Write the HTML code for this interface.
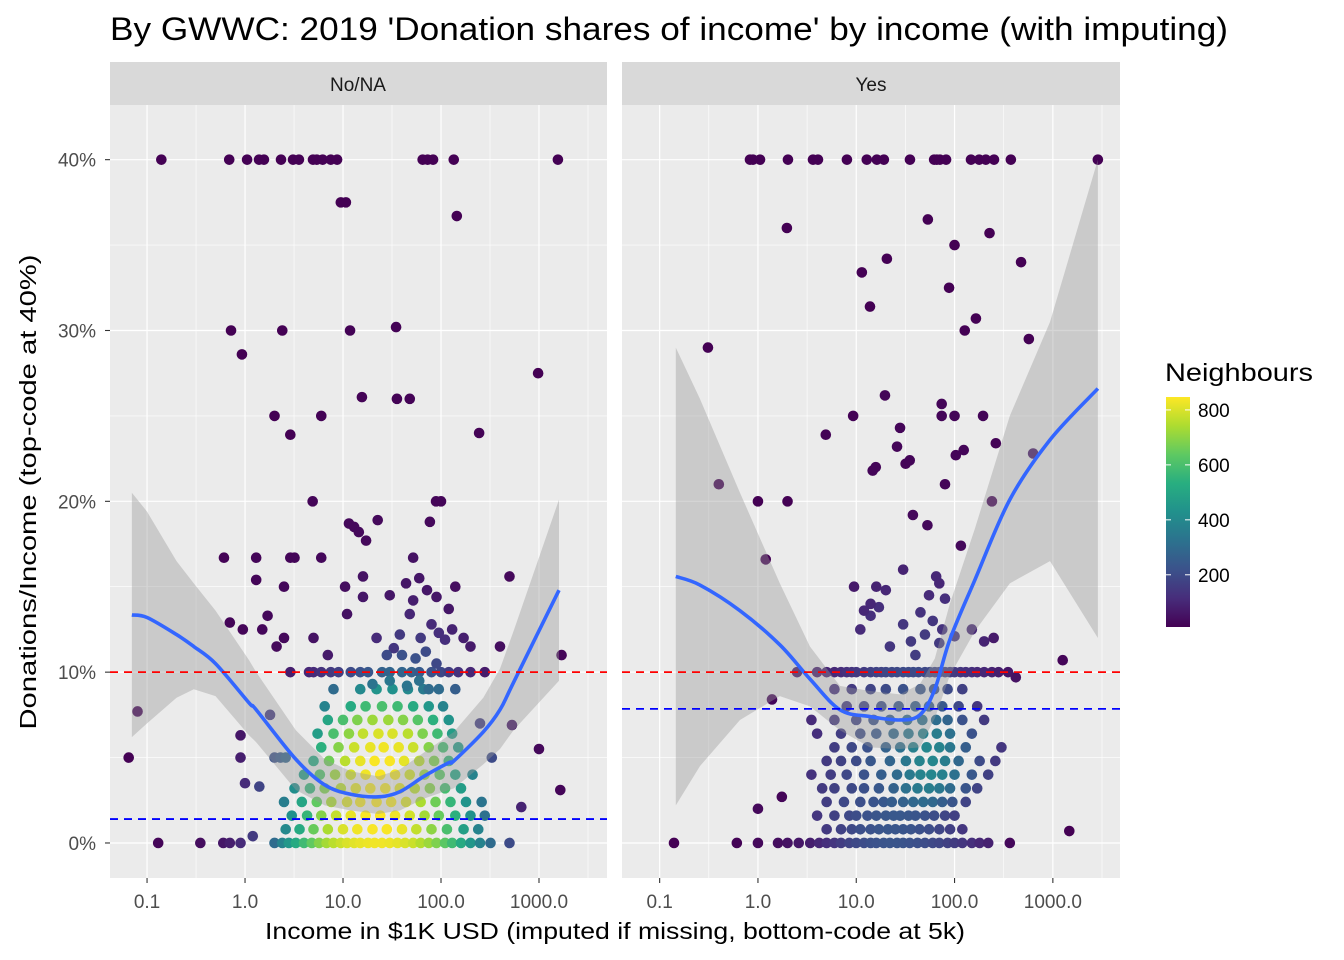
<!DOCTYPE html>
<html><head><meta charset="utf-8"><style>
body{margin:0;background:#fff;width:1344px;height:960px;overflow:hidden;font-family:"Liberation Sans",Arial,sans-serif}
</style></head><body>
<svg id="chart" width="1344" height="960" xmlns="http://www.w3.org/2000/svg" style="position:absolute;left:0;top:0">
<text x="110" y="40" font-size="32" textLength="1118" lengthAdjust="spacingAndGlyphs" fill="#000">By GWWC: 2019 'Donation shares of income' by income (with imputing)</text>
<rect x="110" y="62" width="497" height="43" fill="#d9d9d9"/>
<rect x="622" y="62" width="498" height="43" fill="#d9d9d9"/>
<text x="358" y="91" font-size="19" fill="#1a1a1a" text-anchor="middle">No/NA</text>
<text x="871" y="91" font-size="19" fill="#1a1a1a" text-anchor="middle">Yes</text>
<rect x="110" y="105" width="497" height="773" fill="#ebebeb"/>
<rect x="622" y="105" width="498" height="773" fill="#ebebeb"/>
<g id="grid"></g><g id="marks"></g><g id="axes"></g>
<text x="615" y="939" font-size="23" textLength="700" lengthAdjust="spacingAndGlyphs" fill="#000" text-anchor="middle">Income in $1K USD (imputed if missing, bottom-code at 5k)</text>
<text transform="translate(36,492) rotate(-90)" font-size="23" textLength="475" lengthAdjust="spacingAndGlyphs" fill="#000" text-anchor="middle">Donations/Income (top-code at 40%)</text>
<text x="1165" y="381" font-size="25" textLength="148" lengthAdjust="spacingAndGlyphs" fill="#000">Neighbours</text>
<defs><linearGradient id="vir" x1="0" y1="1" x2="0" y2="0">
<stop offset="0" stop-color="#440154"/><stop offset="0.125" stop-color="#472d7b"/><stop offset="0.25" stop-color="#3b528b"/><stop offset="0.375" stop-color="#2c728e"/><stop offset="0.5" stop-color="#21918c"/><stop offset="0.625" stop-color="#28ae80"/><stop offset="0.75" stop-color="#5ec962"/><stop offset="0.875" stop-color="#addc30"/><stop offset="1" stop-color="#fde725"/></linearGradient></defs>
<rect x="1166" y="397" width="24" height="230" fill="url(#vir)"/>
<g id="legend"></g>
</svg>
<script>
// ---------- data ----------
const nbTicks = [200, 400, 600, 800];
const yTicks = [0, 10, 20, 30, 40];
const yTickLabels = ["0%", "10%", "20%", "30%", "40%"];
const xTicks = [0.1, 1, 10, 100, 1000];
const xTickLabels = ["0.1", "1.0", "10.0", "100.0", "1000.0"];
const refRed = [10, 10];          // red dashed line per panel (%)
const refBlue = [1.4, 7.85];      // blue dashed line per panel (%)

// scattered points [income, share%, neighbours]
const leftPts = [
[0.14,40,5],[0.69,40,5],[1.05,40,5],[1.39,40,5],[1.56,40,5],[2.33,40,5],[3.09,40,5],[3.55,40,5],[4.94,40,5],[5.4,40,5],[6.2,40,5],[7.5,40,5],[8.7,40,5],[65,40,5],[73,40,5],[83,40,5],[135,40,5],[1560,40,5],
[9.5,37.5,10],[10.7,37.5,10],[145,36.7,10],[0.72,30,10],[2.4,30,10],[11.8,30,15],[34.8,30.2,15],[0.93,28.6,10],[980,27.5,10],[15.6,26.1,15],[35.5,26,15],[48,26,15],[2,25,10],[6,25,15],[2.9,23.9,10],[245,24,15],
[4.9,20,20],[89,20,20],[100,20,20],[22.6,18.9,30],[77,18.8,30],[11.5,18.7,30],[13,18.5,30],[14.5,18.2,30],[17.2,17.7,30],
[0.61,16.7,15],[1.3,16.7,20],[2.9,16.7,20],[3.2,16.7,20],[6,16.7,25],[1.3,15.4,20],[2.5,15,25],[10.5,15,40],[16,15.6,50],[30,14.5,60],[44,15.2,60],[60,15.5,60],[72,14.8,60],[140,15,40],[52,16.7,50],[90,14.4,60],[120,13.7,60],[16,14.4,60],[11,13.4,50],[0.7,12.9,20],[0.95,12.5,20],[1.5,12.5,25],[1.7,13.3,25],[2.5,12,30],[2.1,11.5,30],[5,12,50],[7,11,70],[22,12,110],[33,11.4,140],[48,13.4,100],[52,14.2,80],[80,12.8,110],[95,12.3,120],[110,11.9,120],[130,12.5,90],[170,12,80],[200,11.5,70],[500,15.6,30],
[0.08,7.7,15],[0.065,5,10],[0.13,0,20],[0.35,0,40],[0.6,0,60],[0.7,0,80],[0.9,0,110],[1.2,0.4,150],[0.9,6.3,60],[0.9,5,80],[1,3.5,110],[1.4,3.3,180],[1.8,7.5,150],[2,5,220],[2.3,5,250],[2.6,5,280],
[2.9,10,80],[4.5,10,100],[5,10,110],[6,10,130],[7.5,10,150],[9,10,170],[12,10,200],[15,10,220],[18,10,240],[25,10,270],[30,10,280],[40,10,280],[50,10,270],[60,10,250],[80,10,220],[100,10,190],[120,10,160],[150,10,130],[200,10,100],[280,10,70],[400,11.5,40],[1000,5.5,30],[1700,11,20],[1650,3.1,20],[530,6.9,60],[660,2.1,90],[500,0,200],[330,5,200],[250,7,160],
[20,9.3,330],[30,9.5,340],[45,9.2,330],[60,9.5,320],[75,9,300],[28,11,200],[40,11,220],[55,10.8,220],[70,11.2,200],[90,10.5,190],[38,12.2,150],[62,12,150]
];
const rightPts = [
[0.83,40,5],[0.89,40,5],[1.05,40,5],[2.02,40,5],[3.63,40,5],[4.08,40,5],[8.04,40,5],[12.8,40,5],[16.2,40,5],[19.1,40,5],[35.2,40,5],[62,40,5],[66,40,5],[71,40,5],[82,40,5],[147,40,5],[178,40,5],[208,40,5],[252,40,5],[374,40,5],[2870,40,5],
[0.31,29,5],[1.97,36,5],[11.4,33.4,10],[13.8,31.4,10],[20.5,34.2,10],[53.5,36.5,10],[100,35,10],[88,32.5,10],[227,35.7,10],[475,34,10],[570,29.5,10],[165,30.7,10],[127,30,10],
[0.4,21,10],[1,20,10],[2,20,10],[1.2,16.6,10],[4.9,23.9,15],[9.3,25,15],[19.6,26.2,20],[27.9,24.3,20],[26,23.2,20],[31.8,22.2,20],[14.7,21.8,20],[15.8,22,20],[35,22.4,20],[74,25.7,20],[74,25,20],[100,25,20],[195,25,20],[103,22.7,20],[124,23,20],[263,23.4,15],[240,20,15],[80,21,20],[53,18.6,30],[116,17.4,30],[37.7,19.2,30],[630,22.8,60],
[1260,10.7,20],[1470,0.7,10],[365,0,30],[420,9.7,50],[1.39,8.4,20],[1.75,2.7,20],[0.14,0,10],[0.61,0,15],[1,2,30],[1,0,30],[1.6,0,40],[2,0,50],[2.6,0,60],[3.4,0,80],[4.2,0,100],[5,0,120],[6,0,140],[7,0,160],[8.5,0,180],[10,0,195],[12,0,205],[14,0,215],[16,0,220],[19,0,225],[22,0,228],[26,0,228],[30,0,225],[35,0,220],[42,0,215],[50,0,205],[60,0,195],[70,0,185],[85,0,170],[100,0,155],[120,0,140],[150,0,120],[180,0,100],[220,0,85],
[5,0.8,150],[7,0.8,175],[9,0.8,195],[11,0.8,210],[14,0.8,220],[17,0.8,228],[21,0.8,232],[25,0.8,232],[30,0.8,230],[36,0.8,225],[44,0.8,215],[55,0.8,205],[70,0.8,185],[90,0.8,165],[120,0.8,140],
[4,1.6,140],[6,1.6,170],[8.5,1.6,195],[10,1.6,205],[13,1.6,218],[16,1.6,228],[20,1.6,235],[24,1.6,238],[28,1.6,238],[34,1.6,235],[40,1.6,230],[50,1.6,220],[62,1.6,205],[80,1.6,185],[100,1.6,165],
[5,2.4,160],[7.5,2.4,190],[11,2.4,210],[15,2.4,225],[19,2.4,240],[23,2.4,255],[30,2.4,270],[38,2.4,290],[48,2.4,300],[60,2.4,290],[75,2.4,260],[95,2.4,230],[130,2.4,180],
[4.5,3.2,150],[6,3.2,170],[9,3.2,195],[12,3.2,215],[17,3.2,240],[24,3.2,270],[32,3.2,320],[42,3.2,350],[55,3.2,360],[70,3.2,340],[90,3.2,300],[130,3.2,230],[170,3.2,180],
[3.5,4,130],[5.5,4,160],[8,4,190],[12,4,220],[18,4,260],[26,4,300],[35,4,350],[45,4,380],[58,4,390],[75,4,370],[100,4,320],[150,4,240],[220,4,170],
[5,4.8,150],[7,4.8,175],[10,4.8,200],[14,4.8,235],[22,4.8,280],[32,4.8,340],[44,4.8,380],[60,4.8,390],[80,4.8,360],[110,4.8,290],[180,4.8,200],[260,4.8,150],
[6,5.6,160],[9,5.6,190],[13,5.6,220],[20,5.6,270],[28,5.6,320],[38,5.6,370],[52,5.6,390],[70,5.6,380],[90,5.6,340],[130,5.6,260],[300,5.6,140],
[4,6.4,120],[7,6.4,160],[11,6.4,200],[16,6.4,240],[24,6.4,290],[34,6.4,340],[48,6.4,370],[66,6.4,360],[90,6.4,320],[150,6.4,220],
[3.5,7.2,110],[6,7.2,140],[10,7.2,180],[15,7.2,220],[22,7.2,260],[33,7.2,300],[47,7.2,320],[65,7.2,310],[85,7.2,280],[120,7.2,220],[200,7.2,150],
[8,8,150],[12,8,180],[18,8,210],[27,8,240],[40,8,260],[55,8,260],[75,8,240],[110,8,190],[170,8,140],
[6,9,120],[9,9,150],[14,9,180],[20,9,200],[30,9,220],[45,9,230],[62,9,220],[85,9,200],[120,9,170],
[2.5,10,60],[4,10,80],[5,10,95],[6,10,105],[7,10,115],[8,10,125],[9,10,135],[10,10,145],[12,10,155],[14,10,165],[16,10,175],[18,10,180],[20,10,185],[23,10,190],[26,10,195],[30,10,200],[34,10,200],[38,10,200],[43,10,200],[50,10,195],[56,10,190],[63,10,185],[70,10,180],[80,10,170],[90,10,160],[100,10,150],[115,10,140],[130,10,130],[150,10,120],[170,10,110],[200,10,100],[240,10,90],[280,10,80],[350,10,60],
[11,12.5,110],[14,13.3,120],[17,13.8,120],[22,11.5,140],[30,12.8,140],[40,11,160],[50,12.2,150],[60,13,140],[70,11.7,150],[80,14.3,120],[100,12.1,130],[150,12.5,100],[200,11.8,90],[250,12,70],
[16,15,90],[20,14.8,100],[30,16,90],[55,14.5,110],[65,15.6,100],[70,15.2,100],[9.5,15,70],[12,13.6,100],[75,12.5,130],[14,14,100],[45,13.5,130],[36,11.8,150]
];
// dense cluster rows (left panel): share %, incomes, neighbours
const leftRowShares = [0, 0.8, 1.6, 2.4, 3.2, 4, 4.8, 5.6, 6.4, 7.2, 8, 9];
const leftRowIncomes = [
[2,2.4,2.8,3.3,4,4.8,5.7,6.8,8,9.5,11,13,15,18,21,25,30,36,43,52,62,75,90,110,130,160,200,250,320],
[2.6,3.6,5,7,10,14,20,28,40,56,80,115,170,240],
[3,4.3,6,8.5,12,17,24,34,48,68,95,140,200,280],
[2.5,3.8,5.4,7.6,11,15,22,31,44,62,88,125,180,260],
[3.2,4.6,6.5,9.5,13.5,19,27,38,54,77,110,160],
[4,5.8,8.3,12,17,24,34,48,68,97,140,210],
[5,7.2,10.5,15,21,30,42,60,85,120],
[6,9,13,19,26,37,52,75,105,150],
[5.5,8,11.5,16,23,32,46,65,92,130],
[7,10,14,20,29,41,58,83,120],
[6.5,12,17,25,36,52,75,105],
[8,15,22,32,46,66,95,140]];
const leftRowNb = [
[300,380,450,520,580,640,690,730,760,780,800,810,820,825,830,830,825,815,800,780,750,720,680,630,580,520,450,380,300],
[400,520,650,740,800,830,840,840,820,770,700,600,480,380],
[430,560,690,770,820,840,845,830,790,730,650,540,430,320],
[360,500,640,740,800,830,840,835,800,740,660,560,440,330],
[420,560,680,760,810,830,830,810,760,690,590,470],
[470,610,720,790,830,840,830,790,720,630,500,380],
[520,660,760,820,840,840,815,760,680,560],
[540,690,780,820,830,820,780,690,590,470],
[470,600,700,770,800,800,760,680,580,470],
[500,600,680,720,720,690,620,540,440],
[380,520,580,600,580,520,450,380],
[300,400,440,430,400,350,300,260]];

// loess fits: income, fit, lower, upper (%)
const leftFitX = [0.07,0.1,0.2,0.3,0.5,1.1,1.3,3.3,6.5,12,23,38,67,120,135,270,400,550,1600];
const leftFit  = [13.35,13.2,12.2,11.5,10.5,8.2,7.8,4.9,3.4,2.85,2.7,3.0,3.9,4.7,4.8,6.5,7.8,9.4,14.8];
const leftLo   = [6.2,7.0,8.5,9.0,8.6,6.3,5.9,3.1,2.2,1.9,1.7,1.9,2.6,3.1,3.2,4.6,5.5,6.6,9.5];
const leftHi   = [20.5,19.4,16.5,15.2,13.6,10.7,10.0,6.6,4.9,4.2,3.9,4.3,5.3,6.3,6.5,8.5,10.2,12.4,20.1];
const rightFitX = [0.146,0.257,0.656,1.67,3.38,6.82,13.8,27.8,44.4,63,89.5,161,365,935,2870];
const rightFit  = [15.6,15.1,13.6,11.6,9.6,7.8,7.4,7.2,7.5,9.0,11.9,15.4,20.1,23.6,26.6];
const rightLo   = [2.2,4.5,7.2,8.6,8.0,6.6,5.6,5.5,5.6,7.3,9.8,12.4,15.2,16.5,12.0];
const rightHi   = [29,26,20.5,15.2,11.5,9.2,8.9,8.7,9.3,10.8,14.0,18.4,25.0,30.5,40.0];

// ---------- drawing ----------
const NS = "http://www.w3.org/2000/svg";
const PANELS = [{x0:110,x1:607,lmin:-1.378,lmax:3.694},{x0:622,x1:1120,lmin:-1.383,lmax:3.683}];
const Y0 = 878, Y1 = 105, VMIN = -2.05, VMAX = 43.2;
function sx(p, v){const P=PANELS[p];return P.x0+(Math.log10(v)-P.lmin)/(P.lmax-P.lmin)*(P.x1-P.x0);}
function sy(v){return Y0-(v-VMIN)/(VMAX-VMIN)*(Y0-Y1);}
const vstops=["#440154","#472d7b","#3b528b","#2c728e","#21918c","#28ae80","#5ec962","#addc30","#fde725"];
function hex(c){return [1,3,5].map(i=>parseInt(c.substr(i,2),16));}
function vir(n){let t=(n-10)/(847-10);t=Math.max(0,Math.min(1,t))*8;const i=Math.min(7,Math.floor(t)),f=t-i;const a=hex(vstops[i]),b=hex(vstops[i+1]);return "rgb("+a.map((x,k)=>Math.round(x+(b[k]-x)*f)).join(",")+")";}
function mk(tag, attrs, parent){const e=document.createElementNS(NS,tag);for(const k in attrs)e.setAttribute(k,attrs[k]);parent.appendChild(e);return e;}
const grid=document.getElementById('grid'),marks=document.getElementById('marks'),axes=document.getElementById('axes'),legend=document.getElementById('legend');

PANELS.forEach((P,p)=>{
  for(let i=0;i<yTicks.length-1;i++){const y=sy((yTicks[i]+yTicks[i+1])/2);
    const l=mk('line',{x1:P.x0,x2:P.x1,y1:y,y2:y,stroke:'#fff','stroke-width':0.6},grid);
    
    }
  xTicks.concat([10000]).forEach(t=>{const x=sx(p,t/Math.sqrt(10));if(x>P.x0&&x<P.x1){
    const l=mk('line',{x1:x,x2:x,y1:Y1,y2:Y0,stroke:'#fff','stroke-width':0.6},grid);
    
    }});
  yTicks.forEach((t,i)=>{const y=sy(t);
    const l=mk('line',{x1:P.x0,x2:P.x1,y1:y,y2:y,stroke:'#fff','stroke-width':1.2},grid);
    
    
    if(p===0){
      const tk=mk('line',{x1:105,x2:110,y1:y,y2:y,stroke:'#333','stroke-width':1.1},axes);
      
      
      const tx=mk('text',{x:96,y:y+7,'font-size':19,fill:'#4d4d4d','text-anchor':'end'},axes);
      tx.textContent=yTickLabels[i];
      
      }});
  xTicks.forEach((t,i)=>{const x=sx(p,t);
    const l=mk('line',{x1:x,x2:x,y1:Y1,y2:Y0,stroke:'#fff','stroke-width':1.2},grid);
    
    
    const tk=mk('line',{x1:x,x2:x,y1:Y0,y2:Y0+5,stroke:'#333','stroke-width':1.1},axes);
    
    
    const tx=mk('text',{x:x,y:Y0+30,'font-size':19,fill:'#4d4d4d','text-anchor':'middle'},axes);
    tx.textContent=xTickLabels[i];
    
    });
});

function dot(p,inc,sh,nb){
  const c=mk('circle',{cx:sx(p,inc),cy:sy(sh),r:5.3,fill:vir(nb)},marks);
  
  
}
leftRowShares.forEach((s,r)=>leftRowIncomes[r].forEach((inc,j)=>dot(0,inc,s,leftRowNb[r][j])));
leftPts.forEach(d=>dot(0,d[0],d[1],d[2]));
rightPts.forEach(d=>dot(1,d[0],d[1],d[2]));

function ribbon(p,X,lo,hi,fit){
  let d='M'+X.map((x,i)=>sx(p,x)+','+sy(hi[i])).join('L');
  for(let i=X.length-1;i>=0;i--)d+='L'+sx(p,X[i])+','+sy(lo[i]);
  const r=mk('path',{d:d+'Z',fill:'#999','fill-opacity':0.4},marks);
  
  
  const pts=X.map((x,i)=>[sx(p,x),sy(fit[i])]);
  let ld='M'+pts[0];
  for(let i=0;i<pts.length-1;i++){const p0=pts[Math.max(0,i-1)],p1=pts[i],p2=pts[i+1],p3=pts[Math.min(pts.length-1,i+2)];
    ld+='C'+(p1[0]+(p2[0]-p0[0])/6)+','+(p1[1]+(p2[1]-p0[1])/6)+' '+(p2[0]-(p3[0]-p1[0])/6)+','+(p2[1]-(p3[1]-p1[1])/6)+' '+p2[0]+','+p2[1];}
  const l=mk('path',{d:ld,fill:'none',stroke:'#3366ff','stroke-width':3.6},marks);
  
  
}
ribbon(0,leftFitX,leftLo,leftHi,leftFit);
ribbon(1,rightFitX,rightLo,rightHi,rightFit);

PANELS.forEach((P,p)=>{
  const r=mk('line',{x1:P.x0,x2:P.x1,y1:sy(refRed[p]),y2:sy(refRed[p]),stroke:'#ff0000','stroke-width':1.8,'stroke-dasharray':'8 6'},marks);
  
  
  const b=mk('line',{x1:P.x0,x2:P.x1,y1:sy(refBlue[p]),y2:sy(refBlue[p]),stroke:'#0000ff','stroke-width':1.8,'stroke-dasharray':'8 6'},marks);
  
  
});

nbTicks.forEach(n=>{const y=627-(n-10)/(847-10)*230;
  const a=mk('line',{x1:1166,x2:1171,y1:y,y2:y,stroke:'#fff','stroke-width':1},legend);
  
  
  const b=mk('line',{x1:1185,x2:1190,y1:y,y2:y,stroke:'#fff','stroke-width':1},legend);
  
  
  const t=mk('text',{x:1198,y:y+7,'font-size':19,fill:'#000'},legend);
  t.textContent=n;
  
  });
</script>
</body></html>
